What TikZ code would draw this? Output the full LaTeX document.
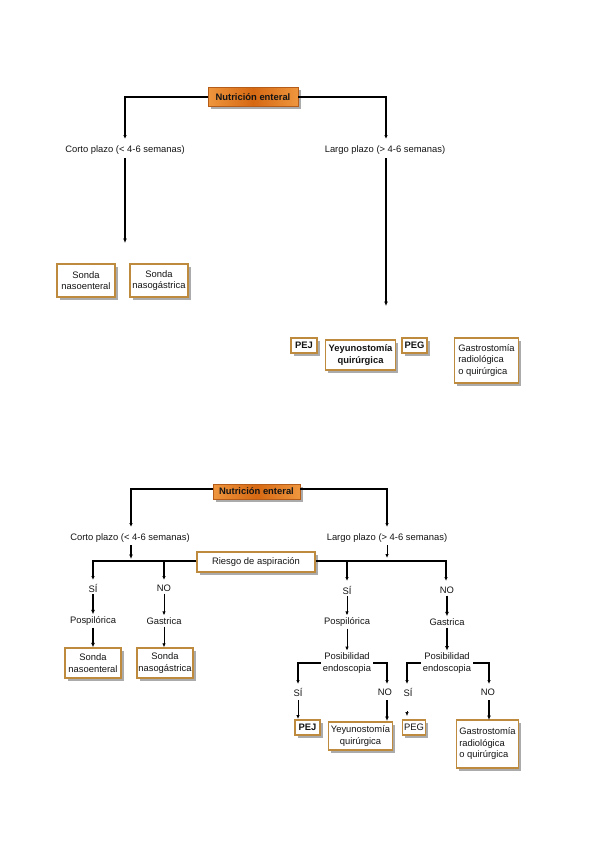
\documentclass[tikz,border=0pt]{standalone}
\usepackage{fontspec}
\setmainfont{Liberation Sans}
\usetikzlibrary{arrows.meta,shadows}
\definecolor{boxbd}{RGB}{190,138,62}
\definecolor{orgA}{RGB}{238,150,62}
\definecolor{orgB}{RGB}{214,104,18}
\definecolor{orgbd}{RGB}{180,92,24}
\definecolor{txt}{RGB}{20,20,20}
\tikzset{
  every node/.style={font=\fontsize{9.4}{11.5}\selectfont, text=txt, inner sep=0pt},
  wbox/.style={draw=boxbd, line width=1.4pt, fill=white, align=center,
    drop shadow={shadow xshift=2.5pt, shadow yshift=-3pt, fill=black!55, opacity=0.6}},
  obox/.style={draw=orgbd, line width=0.6pt, left color=orgA, right color=orgA, middle color=orgB,
    font=\fontsize{9.4}{11.5}\selectfont\bfseries,
    drop shadow={shadow xshift=2.5pt, shadow yshift=-3pt, fill=black!55, opacity=0.6}},
  bf/.style={font=\fontsize{9.4}{11.5}\selectfont\bfseries},
  lbl/.style={align=center},
  ln/.style={line width=1.3pt, draw=black},
  tip/.style={-{Latex[length=4pt,width=3.5pt]}},
  thk/.style={line width=2pt, draw=black, -{Latex[length=4.5pt,width=4pt]}},
  thn/.style={line width=1pt, draw=black, -{Latex[length=4pt,width=3.5pt]}},
}
\begin{document}
\begin{tikzpicture}[x=1pt,y=-1pt]
\useasboundingbox (0,0) rectangle (599,848);

%%%%%%%%%%%%%%%% TOP DIAGRAM %%%%%%%%%%%%%%%%
\node[obox, minimum width=90pt, minimum height=19pt] (N1) at (253,97) {Nutrición enteral};
\node[lbl] (CP1) at (125,150) {Corto plazo (< 4-6 semanas)};
\node[lbl] (LP1) at (385,150) {Largo plazo (> 4-6 semanas)};
\coordinate (c1a) at (125,139);
\coordinate (c1b) at (386,139);
\coordinate (c1c) at (125,243);
\coordinate (c1d) at (386,306);
\draw[ln, tip] (N1.west) -| (c1a);
\draw[ln, tip] (N1.east) -| (c1b);
\draw[thk] (c1c |- 0,158) -- (c1c);
\draw[thk] (c1d |- 0,158) -- (c1d);

\node[wbox, minimum width=58pt, minimum height=33pt] (SN1) at (86,280.5) {Sonda\\nasoenteral};
\node[wbox, minimum width=58pt, minimum height=33pt] (SG1) at (159,280.5) {Sonda\\nasogástrica};
\node[wbox, bf, minimum width=26pt, minimum height=15pt] (PEJ1) at (304,345.5) {PEJ};
\node[wbox, bf, minimum width=70pt, minimum height=30pt] (Y1) at (360.5,355) {Yeyunostomía\\quirúrgica};
\node[wbox, bf, minimum width=25pt, minimum height=15pt] (PEG1) at (414.5,345.5) {PEG};
\node[wbox, minimum width=64pt, minimum height=45pt, align=left] (G1) at (486.5,360.5) {Gastrostomía\\radiológica\\o quirúrgica};

%%%%%%%%%%%%%%%% BOTTOM DIAGRAM %%%%%%%%%%%%%%%%
\node[obox, minimum width=87pt, minimum height=15pt] (N2) at (256.5,491.5) {Nutrición enteral};
\node[lbl] (CP2) at (130,538) {Corto plazo (< 4-6 semanas)};
\node[lbl] (LP2) at (387,538) {Largo plazo (> 4-6 semanas)};
\coordinate (c2a) at (131,527);
\coordinate (c2b) at (387,527);
\draw[ln, tip] (N2.west |- 0,489) -| (c2a);
\draw[ln, tip] (N2.east |- 0,489) -| (c2b);
\coordinate (c2c) at (131,559);
\coordinate (c2d) at (387,558);
\draw[thk] (c2c |- 0,545) -- (c2c);
\draw[thn] (c2d |- 0,545) -- (c2d);

\node[wbox, minimum width=118pt, minimum height=20pt] (R) at (256,562) {Riesgo de aspiración};
\coordinate (h1) at (93,580);
\coordinate (h2) at (164,580);
\coordinate (h3) at (347,581);
\coordinate (h4) at (446,581);
\draw[ln] (R.west |- 0,561) -- (164,561);
\draw[ln, tip] (164,561) -- (93,561) -- (h1);
\draw[ln, tip] (164,561) -- (h2);
\draw[ln] (R.east |- 0,561) -- (347,561);
\draw[ln, tip] (347,561) -- (446,561) -- (h4);
\draw[ln, tip] (347,561) -- (h3);

% left branch
\node[lbl] (S1) at (93,588) {SÍ};
\node[lbl] (O1) at (164,588) {NO};
\node[lbl] (P1) at (93,621) {Pospilórica};
\node[lbl] (Ga1) at (164,621) {Gastrica};
\draw[thk] ([yshift=-2pt]S1.south) -- ([yshift=2pt]P1.north);
\draw[thn] ([yshift=-2pt]O1.south) -- ([yshift=2pt]Ga1.north);
\node[wbox, minimum width=56pt, minimum height=30pt] (SN2) at (93,663) {Sonda\\nasoenteral};
\node[wbox, minimum width=56pt, minimum height=30pt] (SG2) at (165,663) {Sonda\\nasogástrica};
\draw[thk] ([yshift=-2pt]P1.south) -- (SN2.north);
\draw[thn] ([yshift=-2pt]Ga1.south) -- (Ga1.south |- SG2.north);

% right branch
\node[lbl] (S2) at (347,590) {SÍ};
\node[lbl] (O2) at (447,590) {NO};
\node[lbl] (P2) at (347,622) {Pospilórica};
\node[lbl] (Ga2) at (447,622) {Gastrica};
\draw[thn] ([yshift=-2pt]S2.south) -- ([yshift=2pt]P2.north);
\draw[thk] ([yshift=-2pt]O2.south) -- ([yshift=2pt]Ga2.north);
\node[lbl] (PE1) at (347,663) {Posibilidad\\endoscopia};
\node[lbl] (PE2) at (447,663) {Posibilidad\\endoscopia};
\draw[thn] ([yshift=-2pt]P2.south) -- ([yshift=2pt]PE1.north);
\draw[thk] ([yshift=-2pt]Ga2.south) -- ([yshift=2pt]PE2.north);

\coordinate (k1) at (298,684);
\coordinate (k2) at (387,684);
\coordinate (k3) at (407,684);
\coordinate (k4) at (489,684);
\draw[ln, line width=1.6pt, tip] ([xshift=-2pt]PE1.west) -| (k1);
\draw[ln, line width=1.6pt, tip] ([xshift=2pt]PE1.east) -| (k2);
\draw[ln, line width=1.6pt, tip] ([xshift=-2pt]PE2.west) -| (k3);
\draw[ln, line width=1.6pt, tip] ([xshift=2pt]PE2.east) -| (k4);

\node[lbl] (S3) at (298,692) {SÍ};
\node[lbl] (O3) at (385,692) {NO};
\node[lbl] (S4) at (408,692) {SÍ};
\node[lbl] (O4) at (488,692) {NO};

\node[wbox, bf, minimum width=25pt, minimum height=15pt] (PEJ2) at (307.5,727.5) {PEJ};
\node[wbox, minimum width=64pt, minimum height=28pt] (Y2) at (360.5,736) {Yeyunostomía\\quirúrgica};
\node[wbox, minimum width=23pt, minimum height=15pt] (PEG2) at (414,727.5) {PEG};
\node[wbox, minimum width=62pt, minimum height=48pt, align=left] (G2) at (487.5,744) {Gastrostomía\\radiológica\\o quirúrgica};

\coordinate (m1) at (298,719);
\coordinate (m2) at (387,721);
\coordinate (m3) at (407,716);
\coordinate (m4) at (489,720);
\draw[thn] (m1 |- 0,700) -- (m1);
\draw[thk] (m2 |- 0,700) -- (m2);
\draw[thn, line width=0.6pt] (m3 |- 0,711) -- (m3);
\draw[thk] (m4 |- 0,700) -- (m4);
\end{tikzpicture}
\end{document}
